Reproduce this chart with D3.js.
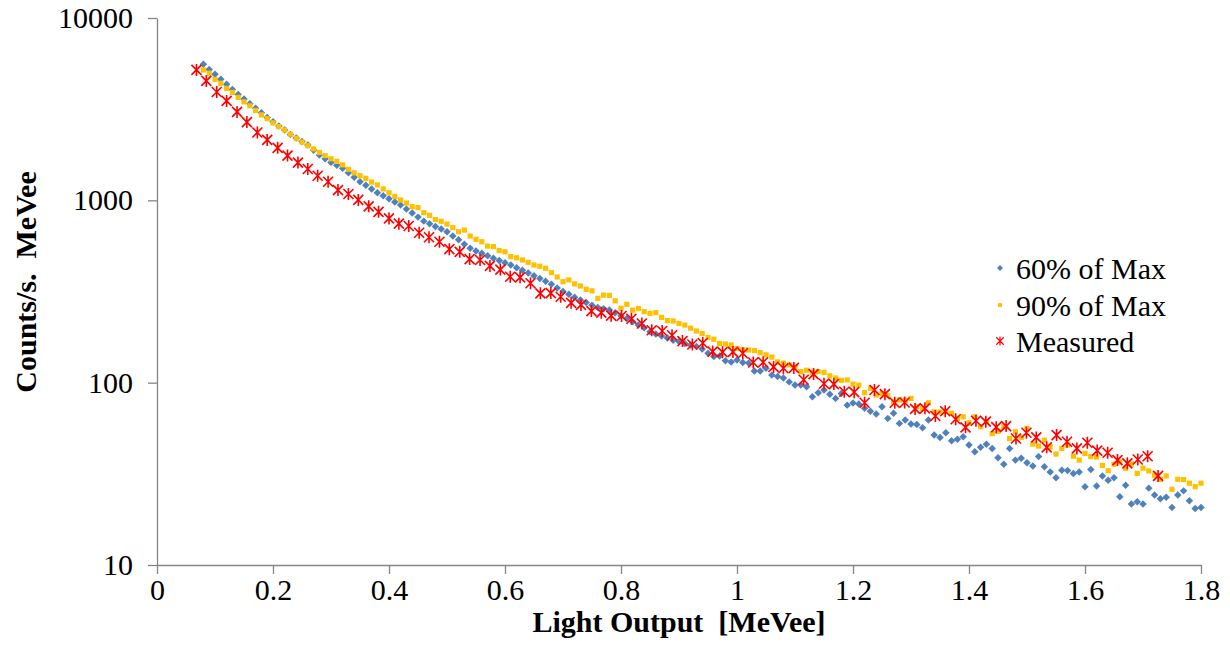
<!DOCTYPE html>
<html>
<head>
<meta charset="utf-8">
<script src="https://cdn.jsdelivr.net/npm/d3@7"></script>
<style>
  body { margin: 0; background: #fff; }
  svg { display: block; }
  text { font-family: "Liberation Serif", "Times New Roman", serif; fill: #000; }
</style>
</head>
<body>
<svg></svg>
<script>
const WIDTH = 1230;
const HEIGHT = 666;

// light output bins for the two simulated spectra [MeVee]
const energy = [
  0.08, 0.09,
  0.10, 0.11, 0.12, 0.13, 0.14, 0.15, 0.16, 0.17, 0.18, 0.19,
  0.20, 0.21, 0.22, 0.23, 0.24, 0.25, 0.26, 0.27, 0.28, 0.29,
  0.30, 0.31, 0.32, 0.33, 0.34, 0.35, 0.36, 0.37, 0.38, 0.39,
  0.40, 0.41, 0.42, 0.43, 0.44, 0.45, 0.46, 0.47, 0.48, 0.49,
  0.50, 0.51, 0.52, 0.53, 0.54, 0.55, 0.56, 0.57, 0.58, 0.59,
  0.60, 0.61, 0.62, 0.63, 0.64, 0.65, 0.66, 0.67, 0.68, 0.69,
  0.70, 0.71, 0.72, 0.73, 0.74, 0.75, 0.76, 0.77, 0.78, 0.79,
  0.80, 0.81, 0.82, 0.83, 0.84, 0.85, 0.86, 0.87, 0.88, 0.89,
  0.90, 0.91, 0.92, 0.93, 0.94, 0.95, 0.96, 0.97, 0.98, 0.99,
  1.00, 1.01, 1.02, 1.03, 1.04, 1.05, 1.06, 1.07, 1.08, 1.09,
  1.10, 1.11, 1.12, 1.13, 1.14, 1.15, 1.16, 1.17, 1.18, 1.19,
  1.20, 1.21, 1.22, 1.23, 1.24, 1.25, 1.26, 1.27, 1.28, 1.29,
  1.30, 1.31, 1.32, 1.33, 1.34, 1.35, 1.36, 1.37, 1.38, 1.39,
  1.40, 1.41, 1.42, 1.43, 1.44, 1.45, 1.46, 1.47, 1.48, 1.49,
  1.50, 1.51, 1.52, 1.53, 1.54, 1.55, 1.56, 1.57, 1.58, 1.59,
  1.60, 1.61, 1.62, 1.63, 1.64, 1.65, 1.66, 1.67, 1.68, 1.69,
  1.70, 1.71, 1.72, 1.73, 1.74, 1.75, 1.76, 1.77, 1.78, 1.79,
  1.80
];

const max60 = [
  5570, 5220,
  4910, 4620, 4335, 4060, 3810, 3600, 3390, 3200, 3020, 2850,
  2700, 2560, 2430, 2300, 2200, 2100, 2010, 1880, 1770, 1690,
  1615, 1555, 1500, 1415, 1340, 1265, 1210, 1155, 1100, 1060,
  1020, 980, 942, 895, 851, 809, 769, 745, 719, 697,
  673, 638, 607, 575, 546, 528, 513, 497, 481, 468,
  454, 442, 427, 413, 399, 386, 373, 360, 347, 331,
  316, 305, 294, 284, 275, 266, 258, 254, 250, 242,
  233, 225, 216, 207, 200, 190, 185, 180, 176, 171,
  168, 164, 161, 158, 153, 145, 139, 140, 132, 130,
  133, 129, 128, 116, 116, 120, 110, 108, 106, 101,
  97.0, 97.0, 95.1, 83.8, 88.1, 91.2, 86.5, 82.0, 87.3, 75.3,
  77.4, 76.4, 72.3, 69.8, 67.3, 73.8, 63.7, 67.9, 59.8, 62.4,
  59.3, 59.0, 56.6, 62.4, 51.6, 50.1, 53.1, 48.0, 48.9, 50.5,
  45.5, 41.8, 44.2, 46.0, 43.6, 38.7, 35.7, 43.6, 37.6, 38.5,
  36.4, 34.9, 39.3, 34.6, 32.4, 30.1, 33.1, 33.0, 31.8, 32.4,
  26.9, 33.4, 27.1, 30.8, 29.2, 30.1, 23.7, 27.4, 21.6, 22.2,
  21.6, 26.4, 24.2, 23.1, 23.5, 20.7, 24.2, 25.5, 22.5, 20.4,
  20.7
];

const max90 = [
  5190, 4980,
  4610, 4385, 4110, 3910, 3670, 3470, 3300, 3110, 2940, 2805,
  2660, 2540, 2430, 2305, 2190, 2090, 1995, 1915, 1830, 1760,
  1690, 1635, 1565, 1480, 1415, 1365, 1320, 1259, 1215, 1155,
  1100, 1050, 1005, 966, 923, 912, 855, 828, 785, 767,
  741, 708, 673, 687, 637, 611, 593, 561, 558, 530,
  522, 491, 484, 471, 457, 442, 435, 424, 401, 380,
  358, 366, 348, 339, 325, 319, 290, 302, 301, 281,
  256, 269, 250, 255, 245, 240, 242, 228, 219, 218,
  211, 207, 199, 192, 186, 177, 173, 164, 163, 161,
  154, 152, 151, 150, 146, 142, 138, 130, 128, 125,
  122, 115, 117, 114, 115, 113.8, 109, 106, 103, 103.5,
  98.2, 97.0, 88.1, 93.1, 85.5, 87.3, 85.0, 78.5, 80.4, 80.0,
  82.0, 73.8, 72.3, 77.6, 69.2, 69.0, 69.5, 67.9, 63.7, 65.0,
  60.3, 65.0, 57.3, 61.1, 52.5, 54.1, 57.3, 49.4, 53.8, 50.1,
  56.1, 46.0, 44.9, 48.4, 44.5, 40.6, 43.6, 45.5, 39.5, 37.6,
  40.9, 39.3, 39.1, 35.2, 32.9, 35.7, 36.8, 33.9, 35.8, 31.8,
  34.0, 32.8, 31.1, 29.5, 30.8, 26.0, 29.5, 29.4, 28.1, 26.9,
  28.1
];

// measured spectrum has its own, coarser bins
const measuredEnergy = [
  0.068, 0.085, 0.103, 0.120, 0.138, 0.155, 0.173, 0.190, 0.208, 0.225,
  0.243, 0.260, 0.277, 0.295, 0.312, 0.330, 0.347, 0.365, 0.382, 0.400,
  0.417, 0.434, 0.452, 0.469, 0.487, 0.504, 0.522, 0.539, 0.557, 0.574,
  0.592, 0.609, 0.626, 0.644, 0.661, 0.679, 0.696, 0.714, 0.731, 0.749,
  0.766, 0.783, 0.801, 0.818, 0.836, 0.853, 0.871, 0.888, 0.906, 0.923,
  0.941, 0.958, 0.975, 0.993, 1.010, 1.028, 1.045, 1.063, 1.080, 1.098,
  1.115, 1.132, 1.150, 1.167, 1.185, 1.202, 1.220, 1.237, 1.255, 1.272,
  1.289, 1.307, 1.324, 1.342, 1.359, 1.377, 1.394, 1.412, 1.429, 1.447,
  1.464, 1.481, 1.499, 1.516, 1.534, 1.551, 1.569, 1.586, 1.604, 1.621,
  1.639, 1.656, 1.673, 1.691, 1.708, 1.726
];

const measured = [
  5190, 4520, 3930, 3510, 3055, 2685, 2355, 2145, 1940, 1760,
  1610, 1485, 1365, 1265, 1138, 1084, 1005, 927, 865, 796,
  745, 723, 664, 627, 593, 540, 522, 476, 471, 437,
  417, 381, 378, 351, 309, 310, 296, 274, 267, 247,
  242, 233, 232, 224, 211, 194, 192, 182, 169, 162,
  165, 148, 147, 147.5, 145, 129, 129.5, 122, 120, 120.5,
  103.8, 111.4, 98.6, 98.2, 89.1, 88.7, 77.6, 91.2, 86.5, 77.6,
  77.8, 71.8, 72.3, 65.6, 69.7, 63.0, 56.9, 61.8, 61.1, 57.0,
  57.8, 49.4, 53.1, 50.1, 44.2, 51.6, 47.4, 43.6, 46.8, 42.4,
  41.3, 37.6, 36.1, 37.9, 39.5, 30.8
];

const xTicks = [0, 0.2, 0.4, 0.6, 0.8, 1, 1.2, 1.4, 1.6, 1.8];
const xTickLabels = ["0", "0.2", "0.4", "0.6", "0.8", "1", "1.2", "1.4", "1.6", "1.8"];
const yTicks = [10, 100, 1000, 10000];
const yTickLabels = ["10", "100", "1000", "10000"];
const seriesNames = ["60% of Max", "90% of Max", "Measured"];

const AXIS_COLOR = "#868686";
const FONT_SIZE = 30;

let svg = d3.select("svg")
    .attr("width", WIDTH)
    .attr("height", HEIGHT);

let x = d3.scaleLinear()
    .domain([0, 1.8])
    .range([157, 1201]);

let y = d3.scaleLog()
    .domain([10, 10000])
    .range([565, 18]);

// axes
let xAxis = svg.append("g")
    .attr("transform", `translate(0, ${y(10)})`)
    .call(d3.axisBottom(x)
        .tickValues(xTicks)
        .tickSizeInner(9)
        .tickSizeOuter(0)
        .tickPadding(5)
        .tickFormat((d, i) => xTickLabels[i]));

let yAxis = svg.append("g")
    .attr("transform", `translate(${x(0)}, 0)`)
    .call(d3.axisLeft(y)
        .tickValues(yTicks)
        .tickSizeInner(9)
        .tickSizeOuter(0)
        .tickPadding(15)
        .tickFormat((d, i) => yTickLabels[i]));

[xAxis, yAxis].forEach(ax => {
    ax.select(".domain").attr("stroke", AXIS_COLOR).attr("stroke-width", 1.3);
    ax.selectAll(".tick line").attr("stroke", AXIS_COLOR).attr("stroke-width", 1.3);
    ax.selectAll(".tick text")
        .attr("font-family", "Liberation Serif")
        .attr("font-size", FONT_SIZE)
        .attr("fill", "#000");
});

// axis titles
svg.append("text")
    .attr("x", (x(0) + x(1.8)) / 2)
    .attr("y", 632)
    .attr("text-anchor", "middle")
    .attr("font-size", FONT_SIZE)
    .attr("font-weight", "bold")
    .style("white-space", "pre")
    .text("Light Output  [MeVee]");

svg.append("text")
    .attr("transform", `translate(36, 282) rotate(-90)`)
    .attr("text-anchor", "middle")
    .attr("font-size", FONT_SIZE)
    .attr("font-weight", "bold")
    .style("white-space", "pre")
    .text("Counts/s.  MeVee");

// marker shapes
const diamond = d3.symbol().type(d3.symbolSquare).size(28)();
const square = d3.symbol().type(d3.symbolSquare).size(27)();
const star = "M-5,-5L5,5M-5,5L5,-5M0,-6L0,6";

function drawSeries(xs, ys, path, style) {
    let g = svg.append("g");
    let pts = g.selectAll("path")
        .data(xs.map((e, i) => ({ e: e, v: ys[i] })))
        .join("path")
        .attr("d", path)
        .attr("transform", d => `translate(${x(d.e)}, ${y(d.v)})` + (style.rotate ? " rotate(45)" : ""));
    Object.keys(style.attrs).forEach(k => pts.attr(k, style.attrs[k]));
    return g;
}

drawSeries(energy, max60, diamond, { rotate: true, attrs: { fill: "#4F81BD" } });
drawSeries(energy, max90, square, { rotate: false, attrs: { fill: "#FFC000" } });
drawSeries(measuredEnergy, measured, star, { rotate: false, attrs: { fill: "none", stroke: "#FF0000", "stroke-width": 1.6 } });

// legend
const legendY = [268, 305, 341];
const legendShapes = [diamond, square, star];
let legend = svg.append("g");
seriesNames.forEach((name, i) => {
    let m = legend.append("path")
        .attr("d", legendShapes[i])
        .attr("transform", `translate(1000, ${legendY[i]})` + (i === 0 ? " rotate(45) scale(0.8)" : " scale(0.75)"));
    if (i === 0) m.attr("fill", "#4F81BD");
    if (i === 1) m.attr("fill", "#FFC000");
    if (i === 2) m.attr("fill", "none").attr("stroke", "#FF0000").attr("stroke-width", 1.6);
    legend.append("text")
        .attr("x", 1016)
        .attr("y", legendY[i])
        .attr("dy", "0.35em")
        .attr("font-size", FONT_SIZE)
        .text(name);
});
</script>
</body>
</html>
